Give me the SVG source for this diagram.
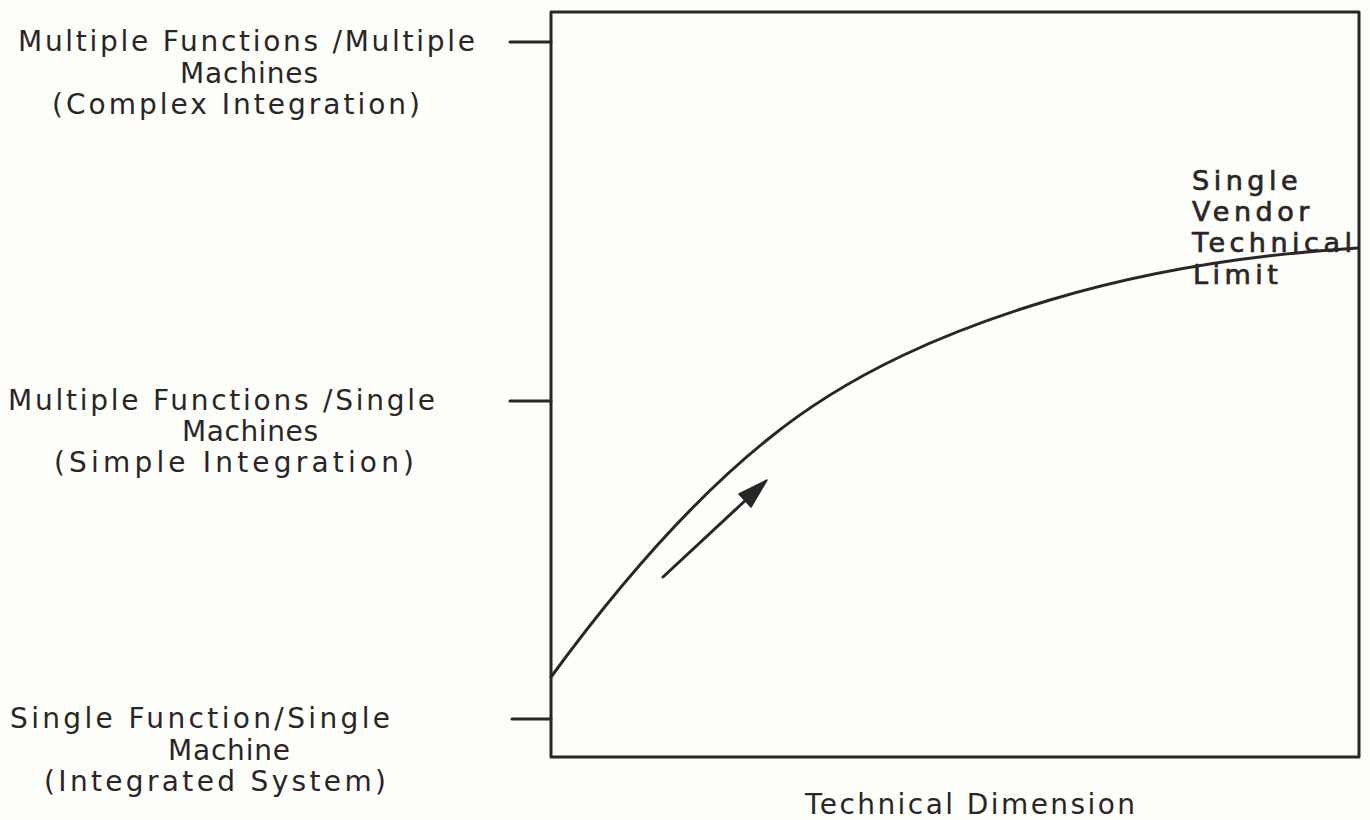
<svg xmlns="http://www.w3.org/2000/svg" width="1370" height="820" viewBox="0 0 1370 820">
<style>
.t{font-family:"DejaVu Sans","Liberation Sans",sans-serif;font-size:28px;fill:#2a2627}
.b{font-size:27px;stroke:#2a2627;stroke-width:0.7;letter-spacing:4.5px}
.ln{stroke:#2a2627;stroke-width:3;fill:none;stroke-linecap:round;stroke-linejoin:round}
</style>
<rect width="1370" height="820" fill="#fdfdfa"/>
<g id="frame">
<rect class="ln" x="551" y="12" width="808" height="745"/>
</g>
<g id="connectors">
<line class="ln" x1="510" y1="42" x2="551" y2="42"/>
<line class="ln" x1="510" y1="401" x2="551" y2="401"/>
<line class="ln" x1="512" y1="719" x2="551" y2="719"/>
<path class="ln" d="M551,677 C600,610 680,510 767,440 C850,372 950,330 1050,300 C1150,270 1260,254 1358,248"/>
<line class="ln" x1="663" y1="577" x2="748" y2="498"/>
<polygon points="767,480 751,507 739,494" fill="#2a2627" stroke="#2a2627" stroke-width="1.5" stroke-linejoin="round"/>
</g>
<g id="label-top">
<text class="t" x="18" y="51" textLength="457" lengthAdjust="spacing">Multiple Functions /Multiple</text>
<text class="t" x="180" y="83" textLength="138" lengthAdjust="spacing">Machines</text>
<text class="t" x="52" y="114" textLength="368" lengthAdjust="spacing">(Complex Integration)</text>
</g>
<g id="label-middle">
<text class="t" x="8" y="410" textLength="427" lengthAdjust="spacing">Multiple Functions /Single</text>
<text class="t" x="182" y="441" textLength="136" lengthAdjust="spacing">Machines</text>
<text class="t" x="54" y="472" textLength="360" lengthAdjust="spacing">(Simple Integration)</text>
</g>
<g id="label-bottom">
<text class="t" x="10" y="728" textLength="380" lengthAdjust="spacing">Single Function/Single</text>
<text class="t" x="168" y="760" textLength="122" lengthAdjust="spacing">Machine</text>
<text class="t" x="44" y="791" textLength="342" lengthAdjust="spacing">(Integrated System)</text>
</g>
<g id="label-axis">
<text class="t" x="805" y="814" textLength="330" lengthAdjust="spacing">Technical Dimension</text>
</g>
<g id="label-limit">
<text class="t b" x="1192" y="190">Single</text>
<text class="t b" x="1192" y="221">Vendor</text>
<text class="t b" x="1192" y="252">Technical</text>
<text class="t b" x="1193" y="284">Limit</text>
</g>
</svg>
